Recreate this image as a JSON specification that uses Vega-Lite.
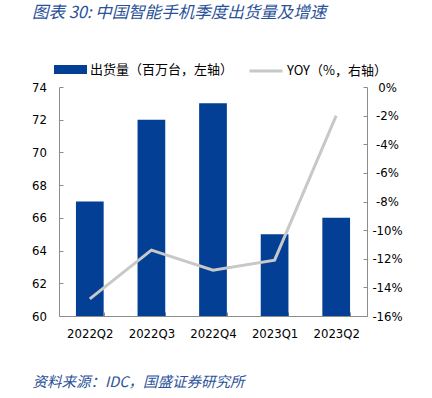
{
  "$schema": "https://vega.github.io/schema/vega-lite/v6.json",
  "autosize": "none",
  "width": 308,
  "height": 229,
  "padding": {"left": 59, "top": 87, "right": 65, "bottom": 82},
  "background": "white",
  "title": {
    "text": "图表 30:  中国智能手机季度出货量及增速",
    "anchor": "start",
    "frame": "group",
    "dx": -27,
    "offset": 32,
    "font": "Noto Sans CJK SC",
    "fontSize": 16.5,
    "fontStyle": "italic",
    "fontWeight": "normal",
    "color": "#2A5298"
  },
  "data": {
    "values": [
      {"q": "2022Q2", "ship": 67, "yoy": -14.8},
      {"q": "2022Q3", "ship": 72, "yoy": -11.4},
      {"q": "2022Q4", "ship": 73, "yoy": -12.8},
      {"q": "2023Q1", "ship": 65, "yoy": -12.1},
      {"q": "2023Q2", "ship": 66, "yoy": -2.0}
    ]
  },
  "config": {
    "view": {"stroke": null},
    "axis": {
      "labelFont": "DejaVu Sans Condensed",
      "labelFontSize": 13,
      "labelColor": "#000000",
      "domainColor": "#8C8C8C",
      "tickColor": "#8C8C8C",
      "grid": false
    },
    "legend": {
      "labelFont": "Noto Sans CJK SC",
      "labelFontSize": 13,
      "labelColor": "#000000",
      "padding": 0,
      "labelOffset": 3
    }
  },
  "encoding": {
    "x": {
      "field": "q",
      "type": "nominal",
      "sort": null,
      "scale": {"paddingInner": 0.55, "paddingOuter": 0.275},
      "axis": {
        "title": "资料来源：IDC，国盛证券研究所",
        "titleFont": "Noto Sans CJK SC",
        "titleFontSize": 14.5,
        "titleFontStyle": "italic",
        "titleFontWeight": "normal",
        "titleColor": "#2A5298",
        "titleAnchor": "start",
        "titleAlign": "left",
        "titleBaseline": "middle",
        "titleX": -27,
        "titleY": 66,
        "labelAngle": 0,
        "tickBand": "extent",
        "tickSize": -4,
        "labelPadding": 15
      }
    }
  },
  "layer": [
    {
      "mark": {"type": "bar", "clip": true},
      "encoding": {
        "y": {
          "field": "ship",
          "type": "quantitative",
          "scale": {"domain": [60, 74], "zero": false, "nice": false},
          "axis": {
            "title": null,
            "values": [60, 62, 64, 66, 68, 70, 72, 74],
            "tickSize": -4,
            "labelPadding": 16.5
          }
        },
        "fill": {
          "datum": "出货量（百万台，左轴）",
          "type": "nominal",
          "scale": {"range": ["#023F95"]},
          "legend": {
            "title": null,
            "orient": "none",
            "legendX": -5,
            "legendY": -34,
            "symbolType": "M-1,-0.27H1V0.27H-1Z",
            "symbolSize": 1089,
            "symbolStrokeWidth": 0
          }
        }
      }
    },
    {
      "mark": {"type": "line", "strokeWidth": 3},
      "encoding": {
        "y": {
          "field": "yoy",
          "type": "quantitative",
          "scale": {"domain": [-16, 0], "nice": false},
          "axis": {
            "title": null,
            "orient": "right",
            "values": [-16, -14, -12, -10, -8, -6, -4, -2, 0],
            "labelExpr": "datum.value + '%'",
            "labelAlign": "center",
            "tickSize": -4,
            "labelPadding": 24
          }
        },
        "stroke": {
          "datum": "YOY（%，右轴）",
          "type": "nominal",
          "scale": {"range": ["#C8C8C8"]},
          "legend": {
            "title": null,
            "orient": "none",
            "legendX": 189,
            "legendY": -34,
            "symbolType": "stroke",
            "symbolSize": 1089,
            "symbolStrokeWidth": 3
          }
        }
      }
    }
  ],
  "resolve": {"scale": {"y": "independent", "fill": "independent", "stroke": "independent"}}
}
